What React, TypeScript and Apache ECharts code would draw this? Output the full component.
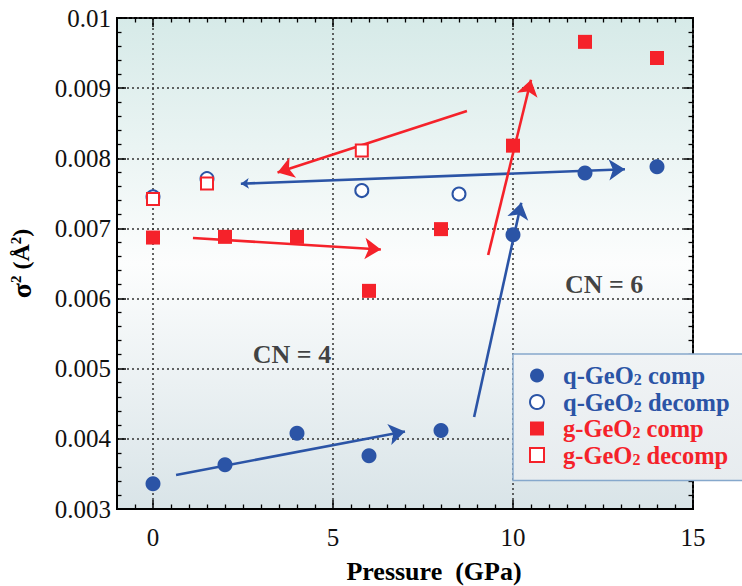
import React, { useEffect, useRef } from "react";
import * as echarts from "echarts";

// ---- data (pressure in GPa, sigma^2 in Å^2) ----
const qCompP = [0, 2, 4, 6, 8, 10, 12, 14];
const qCompS = [0.00336, 0.00363, 0.00408, 0.00376, 0.00412, 0.00691, 0.00779, 0.00788];
const qDecompP = [0, 1.5, 5.8, 8.5];
const qDecompS = [0.00745, 0.00771, 0.00754, 0.00749];
const gCompP = [0, 2, 4, 6, 8, 10, 12, 14];
const gCompS = [0.00687, 0.00688, 0.00688, 0.00611, 0.00699, 0.00818, 0.00966, 0.00943];
const gDecompP = [0, 1.5, 5.8];
const gDecompS = [0.00742, 0.00764, 0.00811];

// arrows: [fromP, fromS, toP, toS]
const blueArrows = [
  [0.64, 0.003485, 7.0, 0.004105],
  [8.92, 0.004312, 10.23, 0.007366],
];
const blueDoubleArrows = [[2.44, 0.007638, 13.11, 0.007843]];
const redArrows = [
  [1.11, 0.006864, 6.33, 0.0067],
  [8.72, 0.008674, 3.46, 0.007797],
  [9.31, 0.006621, 10.5, 0.009119],
];

const cnText = ["CN = 4", "CN = 6"];
const cnP = [3.86, 12.53];
const cnS = [0.005196, 0.006194];

const seriesNames = ["q-GeO2 comp", "q-GeO2 decomp", "g-GeO2 comp", "g-GeO2 decomp"];

const BLUE = "#2b54a6";
const RED = "#f5222a";
const FONT = "'Liberation Serif', 'Times New Roman', serif";

const zip = (a: number[], b: number[]) => a.map((v, i) => [v, b[i]]);
const toLines = (arr: number[][]) => arr.map((a) => ({ coords: [[a[0], a[1]], [a[2], a[3]]] }));

export default function App() {
  const ref = useRef<HTMLDivElement>(null);
  useEffect(() => {
    if (!ref.current) return;
    const chart = echarts.init(ref.current, null, { renderer: "svg" });

    const tickCommon = {
      axisTick: { show: true, inside: true, length: 9, lineStyle: { color: "#000", width: 1.5 } },
      minorTick: { show: true, length: 4.5, lineStyle: { color: "#000", width: 1.3 } },
    };

    const LF = 24.5;
    const legendRich: any = {
      b: { color: BLUE, fontFamily: FONT, fontWeight: "bold", fontSize: LF, lineHeight: 24 },
      bs: { color: BLUE, fontFamily: FONT, fontWeight: "bold", fontSize: 16, lineHeight: 6, verticalAlign: "bottom" },
      r: { color: RED, fontFamily: FONT, fontWeight: "bold", fontSize: LF, lineHeight: 24 },
      rs: { color: RED, fontFamily: FONT, fontWeight: "bold", fontSize: 16, lineHeight: 6, verticalAlign: "bottom" },
    };

    const lineSeries = (name: string, data: any[], color: string, symbol: string[]) => ({
      type: "lines",
      name,
      coordinateSystem: "cartesian2d",
      data,
      symbol,
      symbolSize: [8, 16],
      lineStyle: { color, width: 2.6, opacity: 1, curveness: 0 },
      silent: true,
      z: 2,
    });

    chart.setOption({
      animation: false,
      grid: {
        left: 117,
        top: 18,
        right: 49,
        bottom: 77,
        containLabel: false,
        outerBoundsMode: "none",
        show: true,
        borderColor: "#000",
        borderWidth: 2,
        backgroundColor: new echarts.graphic.LinearGradient(0, 0, 0, 1, [
          { offset: 0, color: "#d6eae8" },
          { offset: 0.5, color: "#fcfdfd" },
          { offset: 1, color: "#d9e4e8" },
        ]),
      },
      legend: {
        data: seriesNames,
        left: 513,
        top: 354,
        orient: "vertical",
        itemWidth: 14,
        itemHeight: 14,
        itemGap: 1.5,
        padding: [9, 80, 13, 16],
        backgroundColor: new echarts.graphic.LinearGradient(0, 0, 0, 1, [
          { offset: 0, color: "#f0f3f5" },
          { offset: 1, color: "#e7ecef" },
        ]),
        borderColor: "#86a8cc",
        borderWidth: 1.5,
        borderRadius: 0,
        textStyle: { padding: [0, 0, 0, 14], rich: legendRich },
        formatter: (name: string) => {
          const c = name.startsWith("q") ? "b" : "r";
          const [pre, post] = name.split("GeO2");
          return `{${c}|${pre}GeO}{${c}s|2}{${c}|${post}}`;
        },
      },
      xAxis: [
        {
          type: "value",
          min: -1,
          max: 15,
          splitNumber: 3,
          position: "bottom",
          axisLine: { show: true, onZero: false, lineStyle: { color: "#000", width: 2 } },
          ...tickCommon,
          minorTick: { ...tickCommon.minorTick, splitNumber: 10 },
          axisLabel: {
            fontFamily: FONT,
            fontSize: 25,
            color: "#111",
            margin: 16,
            formatter: (v: number) => (v < 0 ? "" : String(v)),
          },
          splitLine: { show: true, lineStyle: { color: "#333", type: [2, 3], width: 1.5 } },
          name: "Pressure  (GPa)",
          nameLocation: "middle",
          nameGap: 49,
          nameMoveOverlap: false,
          nameTextStyle: {
            fontFamily: FONT,
            fontWeight: "bold",
            fontSize: 26,
            color: "#000",
            padding: [0, 0, 0, 58],
          },
        },
        {
          type: "value",
          min: -1,
          max: 15,
          splitNumber: 3,
          position: "top",
          axisLine: { show: false, onZero: false },
          ...tickCommon,
          minorTick: { ...tickCommon.minorTick, splitNumber: 10 },
          axisLabel: { show: false },
          splitLine: { show: false },
        },
      ],
      yAxis: [
        {
          type: "value",
          min: 0.003,
          max: 0.01,
          interval: 0.001,
          position: "left",
          axisLine: { show: true, onZero: false, lineStyle: { color: "#000", width: 2 } },
          ...tickCommon,
          minorTick: { ...tickCommon.minorTick, splitNumber: 5 },
          axisLabel: { fontFamily: FONT, fontSize: 25, color: "#111", margin: 6 },
          splitLine: { show: true, lineStyle: { color: "#333", type: [2, 3], width: 1.5 } },
          name: "{a|σ}{s|2}{b| (Å}{s|2}{b|)}",
          nameLocation: "middle",
          nameRotate: 90,
          nameGap: 83,
          nameMoveOverlap: false,
          nameTextStyle: {
            rich: {
              a: { fontFamily: FONT, fontWeight: "bold", fontSize: 28, lineHeight: 26, color: "#000" },
              b: { fontFamily: FONT, fontWeight: "bold", fontSize: 24, lineHeight: 26, color: "#000" },
              s: { fontFamily: FONT, fontWeight: "bold", fontSize: 15, lineHeight: 12, verticalAlign: "top", color: "#000" },
            },
          },
        },
        {
          type: "value",
          min: 0.003,
          max: 0.01,
          interval: 0.001,
          position: "right",
          axisLine: { show: false, onZero: false },
          ...tickCommon,
          minorTick: { ...tickCommon.minorTick, splitNumber: 5 },
          axisLabel: { show: false },
          splitLine: { show: false },
        },
      ],
      series: [
        lineSeries("blueArrows", toLines(blueArrows), BLUE, ["none", "arrow"]),
        lineSeries("blueDouble", toLines(blueDoubleArrows), BLUE, ["arrow", "arrow"]),
        lineSeries("redArrows", toLines(redArrows), RED, ["none", "arrow"]),
        {
          type: "scatter",
          name: seriesNames[0],
          data: zip(qCompP, qCompS),
          symbol: "circle",
          symbolSize: 15,
          itemStyle: { color: BLUE, opacity: 1 },
          z: 3,
        },
        {
          type: "scatter",
          name: seriesNames[1],
          data: zip(qDecompP, qDecompS),
          symbol: "circle",
          symbolSize: 13,
          itemStyle: { color: "#ffffff", borderColor: BLUE, borderWidth: 2, opacity: 1 },
          z: 3,
        },
        {
          type: "scatter",
          name: seriesNames[2],
          data: zip(gCompP, gCompS),
          symbol: "rect",
          symbolSize: 14,
          itemStyle: { color: RED, opacity: 1 },
          z: 3,
        },
        {
          type: "scatter",
          name: seriesNames[3],
          data: zip(gDecompP, gDecompS),
          symbol: "rect",
          symbolSize: 12,
          itemStyle: { color: "#ffffff", borderColor: RED, borderWidth: 2, opacity: 1 },
          z: 4,
        },
        {
          type: "scatter",
          name: "cn",
          data: zip(cnP, cnS),
          symbolSize: 1,
          itemStyle: { color: "transparent" },
          silent: true,
          label: {
            show: true,
            position: "inside",
            formatter: (p: any) => cnText[p.dataIndex],
            fontFamily: FONT,
            fontWeight: "bold",
            fontSize: 26,
            color: "#111",
          },
          z: 5,
        },
      ],
    });
    return () => chart.dispose();
  }, []);
  return <div ref={ref} style={{ width: 742, height: 586, position: "absolute", left: 0, top: 0 }} />;
}
